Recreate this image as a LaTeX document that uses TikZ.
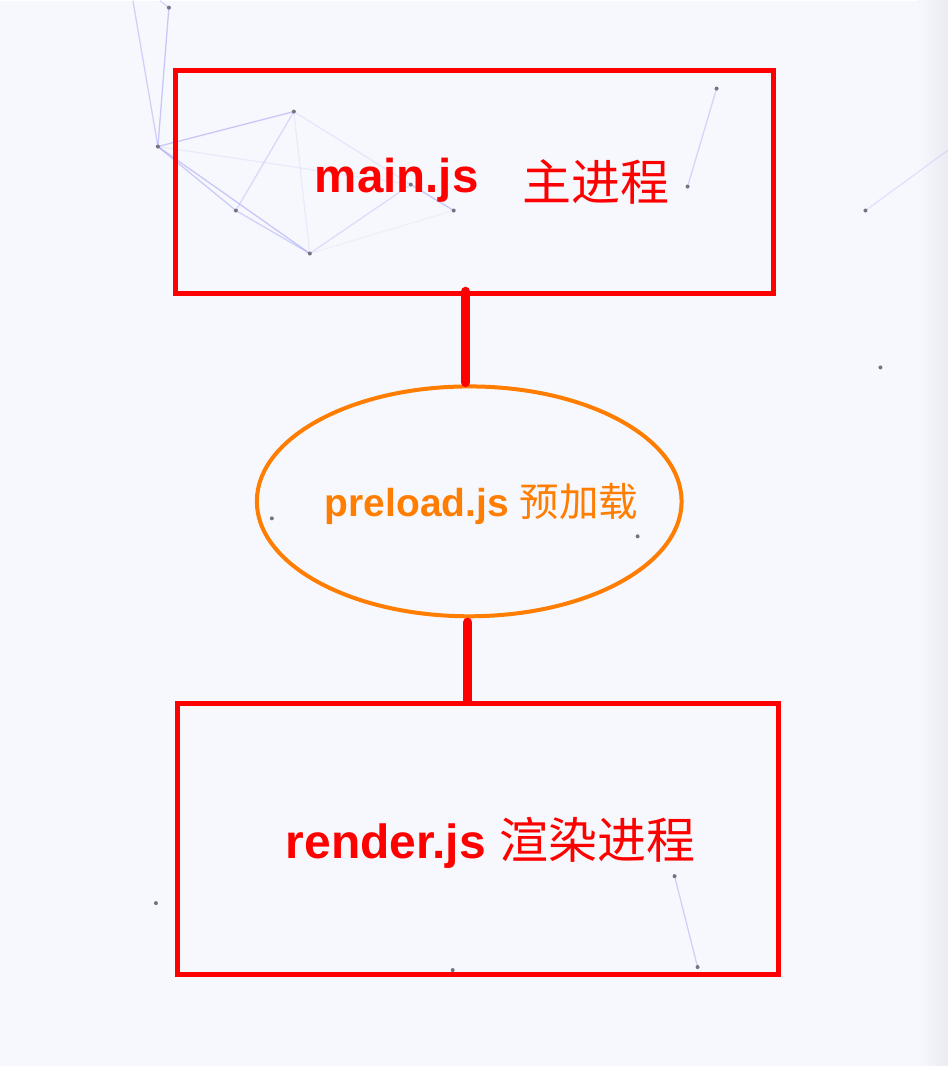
\documentclass[tikz,border=0pt]{standalone}
\usepackage{fontspec}
\setmainfont{Liberation Sans}
\newfontfamily\cjk{Noto Sans CJK SC}
\usepackage{tikz}
\usetikzlibrary{shapes.geometric,calc}
\usepackage{xcolor}
\definecolor{procred}{RGB}{255,0,0}
\definecolor{preorange}{RGB}{255,125,0}
\definecolor{pagebg}{RGB}{247,248,253}
\definecolor{pageedge}{RGB}{234,236,242}
\definecolor{netline}{RGB}{160,160,245}
\definecolor{netdot}{RGB}{115,115,130}

\begin{document}
\begin{tikzpicture}[x=1pt,y=-1pt,
        procbox/.style={draw=procred,line width=5pt,rectangle,inner sep=0pt,outer sep=0pt},
        prebox/.style={draw=preorange,line width=4pt,ellipse,inner sep=0pt,outer sep=0pt,
            minimum width=425pt,minimum height=230pt},
        link/.style={procred,line width=9.5pt,line cap=round},
        boxtext/.style={anchor=base west,inner sep=0pt,outer sep=0pt}]
        % Background
        \fill[pagebg] (0,0) rectangle (948,1066);
        \shade[left color=pagebg,right color=pageedge] (918,0) rectangle (948,1066);

        % Particle network
        \foreach \xa/\ya/\xb/\yb/\op in {133/0/158/146/0.45, 160/0/169/7/0.35,
            169/7/158/146/0.55, 158/146/294/111/0.55, 158/146/236/210/0.5,
            158/146/310/253/0.55, 236/210/310/253/0.45, 236/210/294/111/0.35,
            294/111/310/253/0.15, 294/111/411/184/0.2, 158/146/411/184/0.15,
            310/253/411/184/0.3, 310/253/454/210/0.1, 411/184/454/210/0.55,
            717/88/688/186/0.4, 866/210/948/150/0.25, 675/876/698/967/0.45}
            \draw[netline,line width=1.3pt,opacity=\op] (\xa,\ya) -- (\xb,\yb);
        \foreach \xa/\ya in {169/7, 158/146, 294/111, 236/210, 310/253, 411/184,
            454/210, 717/88, 688/186, 866/210, 881/367, 272/518, 638/536,
            156/903, 453/970, 675/876, 698/967}
            \fill[netdot] (\xa,\ya) circle (2);

        % Processes
        \node[procbox,minimum width=598.5pt,minimum height=223.5pt] (main) at (474.75,181.25) {};
        \node[prebox] (preload) at (469.5,501) {};
        \node[procbox,minimum width=601.5pt,minimum height=270.5pt] (render) at (478.25,838.75) {};

        % Labels
        \node[boxtext,text=procred,font=\fontsize{47.5}{50}\selectfont] (maintxt) at (315,192)
            {\textbf{main.js}\hspace{44pt}\raisebox{-8pt}{\cjk\fontsize{49}{50}\selectfont 主进程}};
        \node[boxtext,text=preorange,font=\fontsize{39}{42}\selectfont] (pretxt) at (325,516)
            {\textbf{preload.js} {\cjk\fontsize{39.5}{42}\selectfont 预加载}};
        \node[boxtext,text=procred,font=\fontsize{48}{50}\selectfont] (rendertxt) at (286,858)
            {\textbf{render.js} {\cjk\fontsize{49}{50}\selectfont 渲染进程}};

        % Connectors
        \draw[link] ([xshift=-8.75pt,yshift=2pt]main.south) -- ([xshift=-3.5pt,yshift=4pt]preload.north);
        \draw[link] ([xshift=-1.5pt,yshift=-6pt]preload.south) -- ([xshift=-10.25pt,yshift=3.5pt]render.north);
\end{tikzpicture}
\end{document}
